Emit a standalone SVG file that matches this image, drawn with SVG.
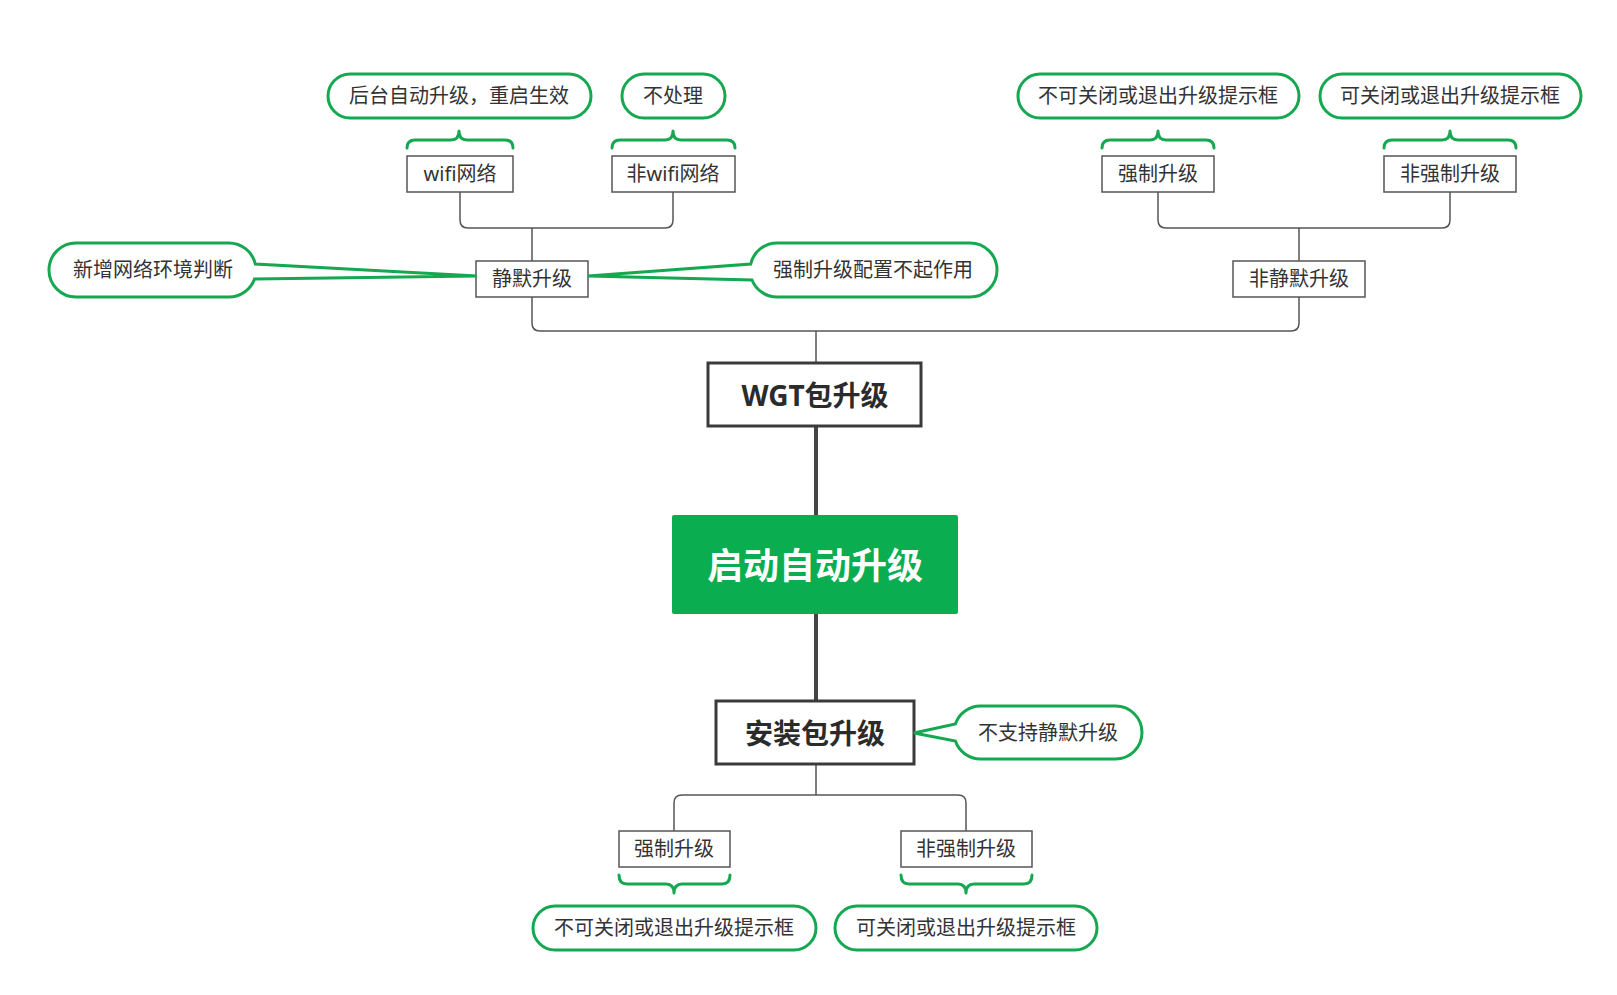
<svg xmlns="http://www.w3.org/2000/svg" width="1617" height="995" viewBox="0 0 1617 995">
<style>
text{font-family:"Noto Sans","Noto Sans CJK SC",sans-serif;fill:#333;text-anchor:middle;dominant-baseline:central}
.t{font-size:20px}
.box{fill:#fff;stroke:#555;stroke-width:1.5}
.pill{fill:#fff;stroke:#15a851;stroke-width:3}
.brace{fill:none;stroke:#15a851;stroke-width:3;stroke-linecap:round;stroke-linejoin:round}
.ln{fill:none;stroke:#555;stroke-width:1.5}
.thick{fill:none;stroke:#444;stroke-width:4}
.big{fill:#fff;stroke:#3a3a3a;stroke-width:3}
.bt{font-size:28px;font-weight:bold;fill:#2b2b2b}
</style>
<rect width="1617" height="995" fill="#fff"/>
<g id="connectors">
<path class="ln" d="M460,192 V220 Q460,228 468,228 H665 Q673,228 673,220 V192 M532,228 V261"/>
<path class="ln" d="M1158,192 V220 Q1158,228 1166,228 H1442 Q1450,228 1450,220 V192 M1299,228 V261"/>
<path class="ln" d="M532,297 V323 Q532,331 540,331 H1291 Q1299,331 1299,323 V297 M816,331 V363"/>
<path class="thick" d="M816,426 V515 M816,614 V701"/>
<path class="ln" d="M816,764 V795 M674,831 V803 Q674,795 682,795 H958 Q966,795 966,803 V831"/>
<path class="brace" d="M407,148 Q407,140 415,140 H451 Q459,140 459,131 Q459,140 467,140 H505 Q513,140 513,148"/>
<path class="brace" d="M612,148 Q612,140 620,140 H665 Q673,140 673,131 Q673,140 681,140 H727 Q735,140 735,148"/>
<path class="brace" d="M1102,148 Q1102,140 1110,140 H1150 Q1158,140 1158,131 Q1158,140 1166,140 H1206 Q1214,140 1214,148"/>
<path class="brace" d="M1384,148 Q1384,140 1392,140 H1442 Q1450,140 1450,131 Q1450,140 1458,140 H1508 Q1516,140 1516,148"/>
<path class="brace" d="M619,875 Q619,884 627,884 H666 Q674,884 674,893 Q674,884 682,884 H722 Q730,884 730,875"/>
<path class="brace" d="M901,875 Q901,884 909,884 H958 Q966,884 966,893 Q966,884 974,884 H1024 Q1032,884 1032,875"/>
</g>
<g id="n-root"><rect x="672" y="515" width="286" height="99" rx="2" fill="#0aad50"/><text x="815" y="565" style="font-size:36px;font-weight:bold;fill:#fff">启动自动升级</text></g>
<g id="n-wgt"><rect class="big" x="708" y="363" width="213" height="63"/><text class="bt" x="815" y="395">WGT包升级</text></g>
<g id="n-apk"><rect class="big" x="716" y="701" width="198" height="63"/><text class="bt" x="815" y="733">安装包升级</text></g>
<g id="n-silent"><rect class="box" x="476" y="261" width="112" height="36"/><text class="t" x="532" y="278">静默升级</text></g>
<g id="n-nonsilent"><rect class="box" x="1233" y="261" width="132" height="36"/><text class="t" x="1299" y="278">非静默升级</text></g>
<g id="n-wifi"><rect class="box" x="407" y="156" width="106" height="36"/><text class="t" x="460" y="173">wifi网络</text></g>
<g id="n-nonwifi"><rect class="box" x="612" y="156" width="123" height="36"/><text class="t" x="673" y="173">非wifi网络</text></g>
<g id="n-force1"><rect class="box" x="1102" y="156" width="112" height="36"/><text class="t" x="1158" y="173">强制升级</text></g>
<g id="n-nonforce1"><rect class="box" x="1384" y="156" width="132" height="36"/><text class="t" x="1450" y="173">非强制升级</text></g>
<g id="n-force2"><rect class="box" x="619" y="831" width="111" height="36"/><text class="t" x="674" y="848">强制升级</text></g>
<g id="n-nonforce2"><rect class="box" x="901" y="831" width="131" height="36"/><text class="t" x="966" y="848">非强制升级</text></g>
<g id="c-bg"><rect class="pill" x="328" y="74" width="263" height="44" rx="22"/><text class="t" x="459" y="95">后台自动升级，重启生效</text></g>
<g id="c-noop"><rect class="pill" x="622" y="74" width="103" height="44" rx="22"/><text class="t" x="673" y="95">不处理</text></g>
<g id="c-noclose1"><rect class="pill" x="1018" y="74" width="281" height="44" rx="22"/><text class="t" x="1158" y="95">不可关闭或退出升级提示框</text></g>
<g id="c-close1"><rect class="pill" x="1320" y="74" width="261" height="44" rx="22"/><text class="t" x="1450" y="95">可关闭或退出升级提示框</text></g>
<g id="c-noclose2"><rect class="pill" x="533" y="906" width="283" height="44" rx="22"/><text class="t" x="674" y="927">不可关闭或退出升级提示框</text></g>
<g id="c-close2"><rect class="pill" x="835" y="906" width="262" height="44" rx="22"/><text class="t" x="966" y="927">可关闭或退出升级提示框</text></g>
<g id="c-net"><path class="pill" d="M76,243 H229 A27,27 0 0 1 255.3,264 L477,276 L254.5,279 A27,27 0 0 1 229,297 H76 A27,27 0 0 1 76,243 Z"/><text class="t" x="153" y="269">新增网络环境判断</text></g>
<g id="c-force"><path class="pill" d="M777,243 H970 A27,27 0 0 1 970,297 H777 A27,27 0 0 1 752,280 L588,276 L750.7,264 A27,27 0 0 1 777,243 Z"/><text class="t" x="873" y="269">强制升级配置不起作用</text></g>
<g id="c-nosilent"><path class="pill" d="M980.5,706 H1115.5 A26.5,26.5 0 0 1 1115.5,759 H980.5 A26.5,26.5 0 0 1 955.4,741 L914,733 L955.4,724 A26.5,26.5 0 0 1 980.5,706 Z"/><text class="t" x="1048" y="732">不支持静默升级</text></g>
</svg>
